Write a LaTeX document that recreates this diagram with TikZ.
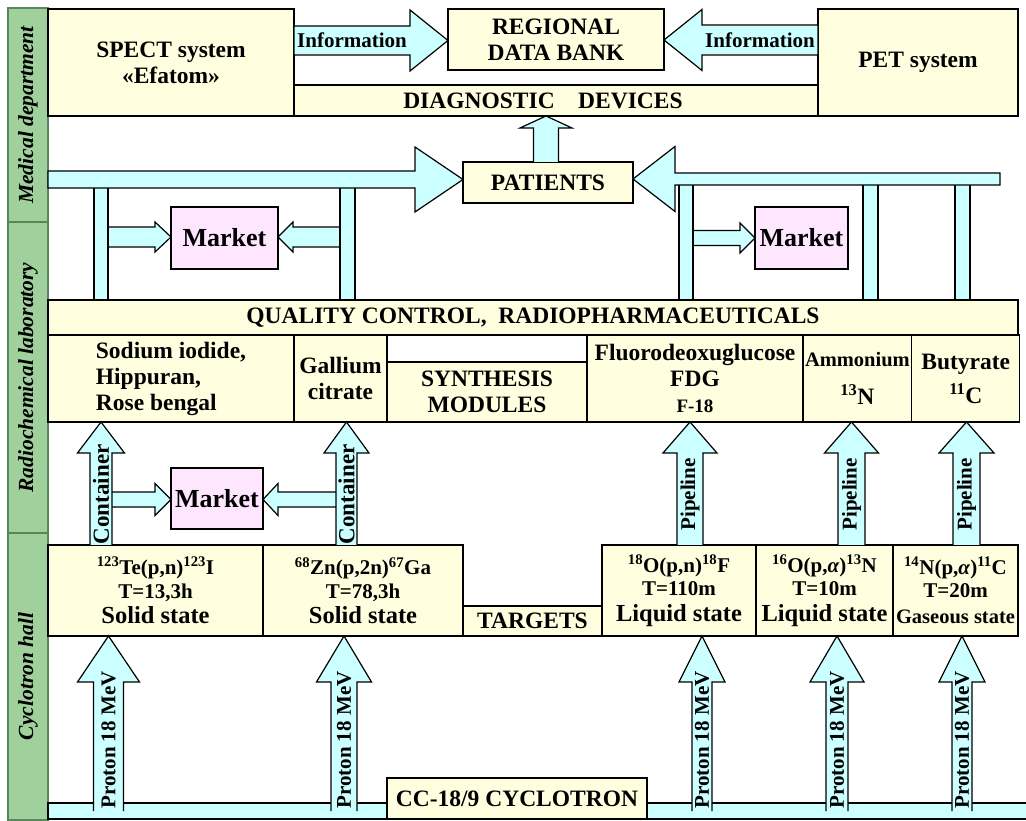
\documentclass[tikz,border=0pt]{standalone}
\usepackage{fontspec}
\setmainfont{Liberation Serif}
\usepackage{xcolor}
\usepackage{tikz}
\usetikzlibrary{positioning}
\usetikzlibrary{calc}
\definecolor{cream}{RGB}{255,255,224}
\definecolor{pipecol}{RGB}{204,255,255}
\definecolor{pinkbox}{RGB}{255,230,255}
\definecolor{bandgreen}{RGB}{160,208,155}
\definecolor{bandline}{RGB}{90,135,90}
\newcommand{\rarr}[7]{\path[blockarr] let \p1=(#2), \p2=(#3) in
  (\x1,#1pt-#4pt) -- (\x2-#6pt,#1pt-#4pt) -- (\x2-#6pt,#1pt-#5pt) -- (\x2,#1pt)
  -- (\x2-#6pt,#1pt+#5pt) -- (\x2-#6pt,#1pt+#4pt) -- (\x1,#1pt+#4pt) -- cycle
  (\x1/2+\x2/2-#6pt/2,#1pt) node[arrlabel] {#7};}
\newcommand{\larr}[7]{\path[blockarr] let \p1=(#2), \p2=(#3) in
  (\x1,#1pt-#4pt) -- (\x2+#6pt,#1pt-#4pt) -- (\x2+#6pt,#1pt-#5pt) -- (\x2,#1pt)
  -- (\x2+#6pt,#1pt+#5pt) -- (\x2+#6pt,#1pt+#4pt) -- (\x1,#1pt+#4pt) -- cycle
  (\x1/2+\x2/2+#6pt/2,#1pt) node[arrlabel] {#7};}
\newcommand{\uparr}[7]{\path[blockarr] let \p1=(#2), \p2=(#3) in
  (#1pt-#4pt,\y1) -- (#1pt-#4pt,\y2-#6pt) -- (#1pt-#5pt,\y2-#6pt) -- (#1pt,\y2)
  -- (#1pt+#5pt,\y2-#6pt) -- (#1pt+#4pt,\y2-#6pt) -- (#1pt+#4pt,\y1)
  (#1pt,0.45*\y1+0.55*\y2-0.55*#6pt) node[arrlabel, rotate=90] {#7};}
\newcommand{\pipe}[3]{\path[blockarr] let \p1=(#1), \p2=(#2) in
  (\x1-#3pt,\y2) rectangle (\x1+#3pt,\y1);}
\newcommand{\bigger}{\fontsize{24.5}{27}\selectfont}

\begin{document}
\begin{tikzpicture}[x=1pt, y=1pt, line width=1.2pt,
  box/.style={draw, fill=cream, inner sep=2pt, outer sep=0pt, align=center,
    font=\bfseries\fontsize{23.5}{26}\selectfont},
  target/.style={box, font=\bfseries\fontsize{21}{23.5}\selectfont},
  mkt/.style={box, fill=pinkbox, font=\bfseries\fontsize{26}{28}\selectfont},
  side/.style={draw=bandline, fill=bandgreen, rotate=90, outer sep=0pt, minimum height=40,
    font=\bfseries\itshape\fontsize{21.5}{24}\selectfont},
  blockarr/.style={draw, fill=pipecol, line join=miter},
  arrlabel/.style={inner sep=0pt, font=\bfseries\fontsize{21}{23}\selectfont}]
  \useasboundingbox (0,0) rectangle (1026,820);
  \node (med) [side, minimum width=214] at (28,705) {Medical department};
  \node (rad) [side, minimum width=311] at (28,442.5) {Radiochemical laboratory};
  \node (cyc) [side, minimum width=287] at (28,143.5) {Cyclotron hall};
  \node (spect) [box, minimum width=246, minimum height=107] at (171,757.5) {SPECT system\\«Efatom»};
  \node (bank) [box, minimum width=216, minimum height=61] at (556,780.5) {REGIONAL\\DATA BANK};
  \node (diag) [box, minimum width=524, minimum height=31] at (556,719.5) {DIAGNOSTIC\quad DEVICES\hspace{26pt}};
  \node (pet) [box, minimum width=200, minimum height=107] at (918,757.5) {PET system};
  \node (pat) [box, minimum width=170, minimum height=41] at (548,637.5) {PATIENTS};
  \node (mkt1) [mkt, minimum width=107, minimum height=62] at (224.5,582) {Market};
  \node (mkt2) [mkt, minimum width=93, minimum height=62] at (801.5,582) {Market};
  \node (qc) [box, minimum width=970, minimum height=35] at (533,502.5) {QUALITY CONTROL,\ \ RADIOPHARMACEUTICALS};
  \node (sod) [box, align=left, minimum width=246, minimum height=87, below right=0pt of qc.south west] {Sodium iodide,\\Hippuran,\\Rose bengal};
  \node (gall) [box, minimum width=93, minimum height=87, right=0pt of sod] {Gallium\\citrate};
  \node (synth) [box, minimum width=200, minimum height=60, anchor=south west] at (gall.south east) {SYNTHESIS\\MODULES};
  \node (fdg) [box, minimum width=216, minimum height=87, anchor=south west] at (synth.south east) {Fluorodeoxuglucose\\FDG\\{\fontsize{19}{21}\selectfont F-18}};
  \node (amm) [box, minimum width=107, minimum height=87, right=0pt of fdg] {\fontsize{20.5}{23}\selectfont Ammonium\\[12pt]\textsuperscript{13}N};
  \node (but) [box, minimum width=108, minimum height=87, right=0pt of amm] {Butyrate\\[8pt]\textsuperscript{11}C};
  \node (mkt3) [mkt, minimum width=92, minimum height=61] at (217,321.5) {Market};
  \node (te) [target, minimum width=215, minimum height=91] at (155.5,229.5) {\textsuperscript{123}Te(p,n)\textsuperscript{123}I\\T=13,3h\\[2pt]{\bigger Solid state}};
  \node (zn) [target, minimum width=200, minimum height=91, right=0pt of te] {\textsuperscript{68}Zn(p,2n)\textsuperscript{67}Ga\\T=78,3h\\[2pt]{\bigger Solid state}};
  \node (tgt) [box, minimum width=139, minimum height=30, anchor=south west] at (zn.south east) {TARGETS};
  \node (o18) [target, minimum width=154, minimum height=91, anchor=south west] at (tgt.south east) {\textsuperscript{18}O(p,n)\textsuperscript{18}F\\T=110m\\[2pt]{\bigger Liquid state}};
  \node (o16) [target, minimum width=137, minimum height=91, right=0pt of o18] {\textsuperscript{16}O(p,\textit{α})\textsuperscript{13}N\\T=10m\\[2pt]{\bigger Liquid state}};
  \node (n14) [target, minimum width=125, minimum height=91, right=0pt of o16] {\textsuperscript{14}N(p,\textit{α})\textsuperscript{11}C\\T=20m\\[2pt]{\fontsize{20.5}{23}\selectfont Gaseous state}};
  \node (beam) [draw, fill=pipecol, outer sep=0pt, minimum width=982, minimum height=16] at (539,9) {};
  \node (cc) [box, minimum width=260, minimum height=41] at (517,21.5) {CC-18/9 CYCLOTRON};
  \coordinate (lin) at (48,640.5);
  \coordinate (rin) at (1000,641);
  \coordinate (pa) at (101,640.5);
  \coordinate (pb) at (347.5,640.5);
  \coordinate (pc) at (686,641);
  \coordinate (pd) at (870.5,641);
  \coordinate (pe) at (962.5,641);
  \rarr{779.5}{spect.east}{bank.west}{14.5}{30.5}{38}{Information}
  \larr{780}{pet.west}{bank.east}{15}{30.5}{38}{Information}
  \uparr{546}{pat.north}{diag.south}{12.5}{26}{12}{}
  \rarr{583}{pa}{mkt1.west}{10}{15}{16}{}
  \larr{583}{pb}{mkt1.east}{10}{15}{15}{}
  \rarr{582}{pc}{mkt2.west}{7.5}{15}{15}{}
  \pipe{pa}{qc.north}{7}
  \pipe{pb}{qc.north}{7.5}
  \pipe{pc}{qc.north}{7}
  \pipe{pd}{qc.north}{7.5}
  \pipe{pe}{qc.north}{7.5}
  \rarr{640.5}{lin}{pat.west}{8.5}{32.5}{48}{}
  \larr{641}{rin}{pat.east}{6}{32.5}{42}{}
  \rarr{320.5}{pa}{mkt3.west}{7.5}{16}{16}{}
  \larr{320.5}{pb}{mkt3.east}{7.5}{16}{15}{}
  \uparr{101}{te.north}{sod.south}{11}{23.5}{31}{\fontsize{23}{24}\selectfont Container}
  \uparr{346.5}{zn.north}{gall.south}{10.5}{22.5}{31}{\fontsize{23}{24}\selectfont Container}
  \uparr{690}{o18.north}{fdg.south}{13}{27}{31}{Pipeline}
  \uparr{851.5}{o16.north}{amm.south}{13.5}{27}{31}{Pipeline}
  \uparr{966.5}{n14.north}{but.south}{13.5}{27.5}{31}{Pipeline}
  \uparr{108.5}{beam.center}{te.south}{15}{31}{46}{Proton 18 MeV}
  \uparr{344}{beam.center}{zn.south}{13}{27.5}{46}{Proton 18 MeV}
  \uparr{702}{beam.center}{o18.south}{10}{23}{46}{Proton 18 MeV}
  \uparr{837}{beam.center}{o16.south}{11}{27}{46}{Proton 18 MeV}
  \uparr{962}{beam.center}{n14.south}{10}{23}{46}{Proton 18 MeV}
\end{tikzpicture}
\end{document}
